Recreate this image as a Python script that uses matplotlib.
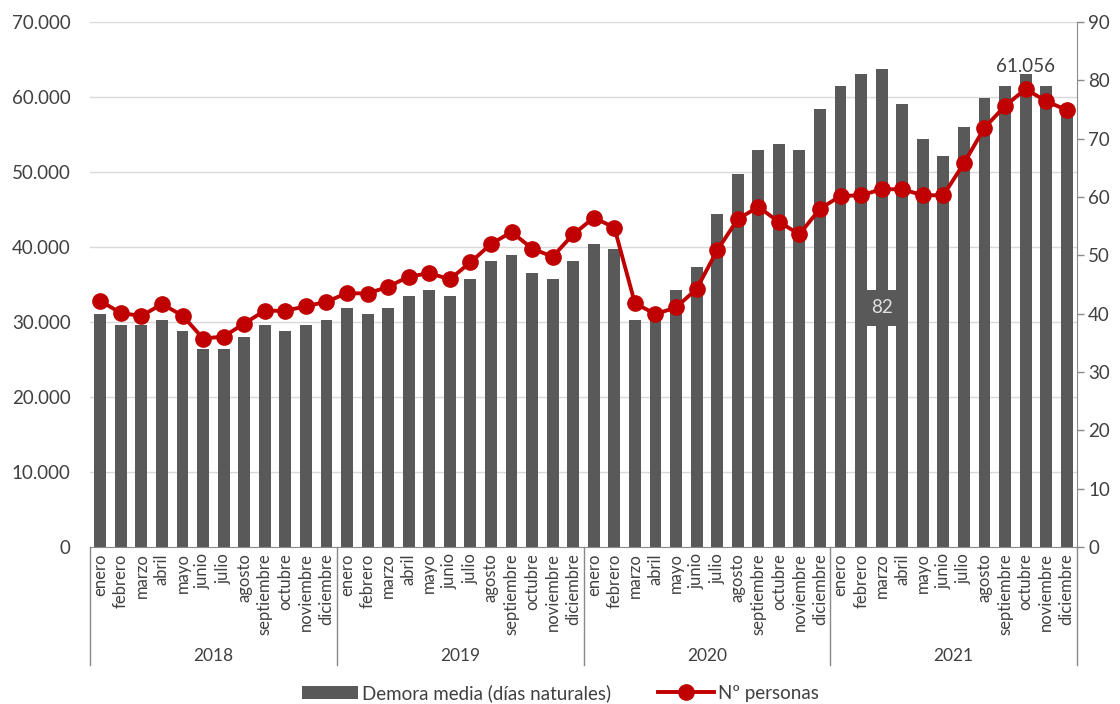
import matplotlib.pyplot as plt
from matplotlib.patches import Patch
from matplotlib.lines import Line2D
from matplotlib.ticker import FuncFormatter
import matplotlib.transforms as mtransforms

plt.rcParams['font.family'] = ['Lato', 'DejaVu Sans']

years = ["2018", "2019", "2020", "2021"]
months = ["enero", "febrero", "marzo", "abril", "mayo", "junio", "julio",
          "agosto", "septiembre", "octubre", "noviembre", "diciembre"]

# Demora media (días naturales) - right axis
demora = [40, 38, 38, 39, 37, 34, 34, 36, 38, 37, 38, 39,
          41, 40, 41, 43, 44, 43, 46, 49, 50, 47, 46, 49,
          52, 51, 39, 39, 44, 48, 57, 64, 68, 69, 68, 75,
          79, 81, 82, 76, 70, 67, 72, 77, 79, 81, 79, 75]

# Nº personas - left axis
personas = [32800, 31200, 30800, 32400, 30850, 27800, 28050, 29800, 31500, 31500, 32100, 32700,
            33850, 33800, 34700, 36050, 36500, 35700, 37950, 40400, 42000, 39800, 38700, 41700,
            43900, 42600, 32500, 31050, 31950, 34400, 39550, 43700, 45350, 43350, 41700, 45100,
            46800, 46900, 47700, 47700, 46900, 46900, 51150, 55900, 58800, 61056, 59450, 58250]

left_ticks = [0, 10000, 20000, 30000, 40000, 50000, 60000, 70000]
right_ticks = [0, 10, 20, 30, 40, 50, 60, 70, 80, 90]

bar_color = "#595959"
line_color = "#C00000"
axis_grey = "#898989"
text_grey = "#404040"

fig = plt.figure(figsize=(11.2, 7.04), dpi=100)
ax = fig.add_axes([90 / 1120, 1 - 547 / 704, (1077 - 90) / 1120, (547 - 22) / 704])
ax2 = ax.twinx()

n = len(demora)
x = list(range(n))
left_max = left_ticks[-1]
right_max = right_ticks[-1]

# bars on ax2 (right scale), drawn underneath the line axis
ax2.set_zorder(1)
ax.set_zorder(2)
ax.patch.set_visible(False)

for t in left_ticks[1:]:
    ax2.axhline(t * right_max / left_max, color="#D9D9D9", lw=1, zorder=0)

ax2.bar(x, demora, width=0.58, color=bar_color, zorder=2)
ax2.set_ylim(0, right_max)
ax2.set_yticks(right_ticks)
ax2.tick_params(axis='y', direction='out', length=5, color=axis_grey, width=1,
                labelsize=13.5, labelcolor=text_grey, pad=3)

ax.plot(x, personas, color=line_color, lw=2.8, marker='o', markersize=11, zorder=3)
ax.set_ylim(0, left_max)
ax.set_yticks(left_ticks)
ax.yaxis.set_major_formatter(FuncFormatter(lambda v, p: f"{int(v):,}".replace(",", ".")))
ax.tick_params(axis='y', length=0, labelsize=13.5, labelcolor=text_grey, pad=14)
ax.set_xlim(-0.5, n - 0.5)

for a in (ax, ax2):
    for s in a.spines.values():
        s.set_visible(False)
ax2.spines['right'].set_visible(True)
ax2.spines['right'].set_color(axis_grey)
ax2.spines['bottom'].set_visible(True)
ax2.spines['bottom'].set_color(axis_grey)

# category axis: months and years
ax.set_xticks([])
ax2.set_xticks([])
trans = mtransforms.blended_transform_factory(ax.transData, ax.transAxes)
for i in range(n):
    ax.text(i, -0.012, months[i % 12], rotation=90, ha='center', va='top',
            fontsize=12, color=text_grey, transform=trans)
sep_bottom = -(665 - 547) / 525
for k in range(len(years) + 1):
    xb = k * 12 - 0.5
    ax.plot([xb, xb], [0, sep_bottom], color=axis_grey, lw=1, transform=trans, clip_on=False)
for k, yr in enumerate(years):
    ax.text(k * 12 + 5.5, -(656 - 547) / 525, yr, ha='center', va='center',
            fontsize=12.5, color=text_grey, transform=trans)

# data labels
i_max = personas.index(max(personas))
ax.annotate(f"{personas[i_max]:,}".replace(",", "."), (i_max, personas[i_max]),
            xytext=(0, 10), textcoords='offset points', ha='center', va='bottom',
            fontsize=13.5, color=text_grey, zorder=5)
j_max = demora.index(max(demora))
ax2.text(j_max, demora[j_max] / 2, str(demora[j_max]), ha='center', va='center',
         fontsize=13.5, color="#E0E0E0", zorder=4,
         bbox=dict(boxstyle='square,pad=0.5', facecolor=bar_color, edgecolor='none'))

handles = [Patch(facecolor=bar_color, edgecolor='none'),
           Line2D([0], [0], color=line_color, lw=2.8, marker='o', markersize=11)]
fig.legend(handles, ["Demora media (días naturales)", "Nº personas"], loc='center',
           bbox_to_anchor=(0.5, 1 - 693 / 704), ncol=2, frameon=False, fontsize=13.5,
           handlelength=3, handletextpad=0.2, columnspacing=2.5, labelcolor=text_grey)

fig.savefig("out.png", dpi=100)
